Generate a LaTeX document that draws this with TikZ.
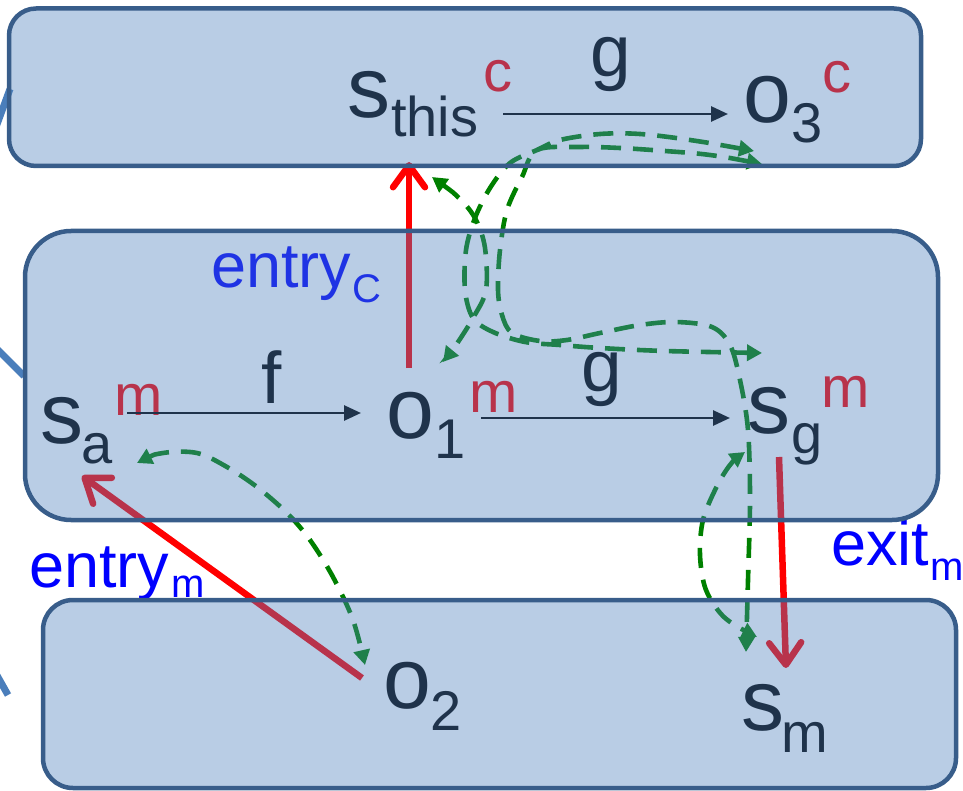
\documentclass[tikz,border=0pt]{standalone}
\usepackage{fontspec}
\setmainfont{Liberation Sans}
\usetikzlibrary{arrows.meta}
\definecolor{boxfill}{HTML}{4F81BD}
\definecolor{boxline}{HTML}{385D8A}
\definecolor{flowgreen}{HTML}{008000}
\definecolor{linkblue}{HTML}{4A7EBB}
\newcommand{\fsz}[1]{\fontsize{#1}{#1}\selectfont}
\begin{document}
\begin{tikzpicture}[x=1pt,y=-1pt,
  lbl/.style={inner sep=0pt, anchor=base west, text=black},
  big/.style={lbl, font=\fsz{86}},
  sub/.style={lbl, font=\fsz{56}},
  sup/.style={lbl, font=\fsz{58}, text=red},
  edgelbl/.style={lbl, font=\fsz{73}},
  bluelbl/.style={lbl, font=\fsz{63}, text=blue},
  bluesub/.style={lbl, font=\fsz{40}, text=blue},
  cfgedge/.style={black, line width=2.8pt, -{Triangle[length=17pt,width=15pt]}},
  calledge/.style={red, line width=6.5pt, -{Straight Barb[length=22pt,width=32pt,round]}},
  flow/.style={flowgreen, line width=4.6pt, dash pattern=on 20pt off 12pt,
    {Triangle[length=15pt,width=16pt]}-{Triangle[length=15pt,width=16pt]}},
  link/.style={linkblue, line width=7pt},
  boxstyle/.style={draw=boxline, line width=4.5pt, fill=boxfill, fill opacity=0.4}
]
\useasboundingbox (0,0) rectangle (963,791);

% ---- labels ----
\node[big] (sthis) at (347,118) {s};
\node[sub] (sthis-sub) at (391,137) {this};
\node[sup] (sthis-sup) at (483,92) {c};
\node[edgelbl] (g1) at (590,77) {g};
\node[big] (o3) at (743,123) {o};
\node[sub] (o3-sub) at (791,143) {3};
\node[sup] (o3-sup) at (822,93) {c};

\node[big] (sa) at (40,443) {s};
\node[sub] (sa-sub) at (81,463) {a};
\node[sup] (sa-sup) at (114,415) {m};
\node[edgelbl] (f) at (261,403) {f};
\node[big] (o1) at (386,438) {o};
\node[sub] (o1-sub) at (434,458) {1};
\node[sup] (o1-sup) at (469,412) {m};
\node[edgelbl] (g2) at (581,391) {g};
\node[big] (sg) at (747,433) {s};
\node[sub] (sg-sub) at (791,453) {g};
\node[sup] (sg-sup) at (821,407) {m};

\node[big] (o2) at (383,708) {o};
\node[sub] (o2-sub) at (430,730) {2};
\node[big] (sm) at (741,730) {s};
\node[sub] (sm-sub) at (781,752) {m};

\node[bluelbl] (entryC) at (211,288) {entry};
\node[bluesub] (entryC-sub) at (352,303) {C};
\node[bluelbl] (entrym) at (29,587) {entry};
\node[bluesub] (entrym-sub) at (171,597) {m};
\node[bluelbl] (exitm) at (831,565) {exit};
\node[bluesub] (exitm-sub) at (930,580) {m};

% ---- connector end points ----
\coordinate (top-s) at (503,114);   \coordinate (top-e) at (728,114);
\coordinate (f-s) at (127,413);     \coordinate (f-e) at (361,413);
\coordinate (g-s) at (481,418);     \coordinate (g-e) at (730,418);
\coordinate (eC-s) at (409,368);    \coordinate (eC-e) at (409,162);
\coordinate (em-s) at (362,678);    \coordinate (em-e) at (82,476);
\coordinate (xm-s) at (779,457);    \coordinate (xm-e) at (786,668);

% ---- intraprocedural edges ----
\draw[cfgedge] (top-s) -- (top-e);
\draw[cfgedge] (f-s) -- (f-e);
\draw[cfgedge] (g-s) -- (g-e);

% ---- call / return edges ----
\draw[calledge] (eC-s) -- (eC-e);
\draw[calledge] (em-s) -- (em-e);
\draw[calledge] (xm-s) -- (xm-e);

% ---- green flow paths ----
\draw[flow] plot[smooth, tension=0.55] coordinates {
  (137,463) (163,453) (197,453) (227,467) (257,487) (287,513) (310,540)
  (333,577) (353,620) (365,665)};
\draw[flow] plot[smooth, tension=0.55] coordinates {
  (432,177) (460,199) (476,220) (485,248) (486,290) (473,318) (456,345) (443,362)};
\draw[flow] plot[smooth, tension=0.55] coordinates {
  (754,151) (690,140) (640,134) (600,134) (560,140) (537,150) (510,163)
  (490,188) (475,218) (466,250) (465,290) (473,318) (493,332) (525,342)
  (560,345) (600,348) (665,351) (762,353)};
\draw[flow] plot[smooth, tension=0.55] coordinates {
  (762,164) (710,155) (665,151) (620,148) (580,147) (537,150) (522,177)
  (507,210) (500,250) (498,290) (502,315) (512,333) (540,341) (567,340)
  (600,333) (640,325) (676,322) (712,327) (730,345) (740,380) (748,430)
  (750,500) (748,580) (746,652)};
\draw[flow] plot[smooth, tension=0.55] coordinates {
  (745,452) (730,465) (716,488) (703,520) (700,555) (706,590) (725,618) (757,637)};

% ---- links leaving the picture ----
\coordinate (lk1a) at (-4,127); \coordinate (lk1b) at (10,89);
\coordinate (lk2a) at (-5,347); \coordinate (lk2b) at (24,376);
\coordinate (lk3a) at (-10,663); \coordinate (lk3b) at (8,695);
\draw[link] (lk1a) -- (lk1b);
\draw[link] (lk2a) -- (lk2b);
\draw[link] (lk3a) -- (lk3b);

% ---- procedure boxes (semi-transparent, on top) ----
\draw[boxstyle, rounded corners=27pt] (9,8.5) rectangle (921,166);
\draw[boxstyle, rounded corners=46pt] (25,231) rectangle (938,520);
\draw[boxstyle, rounded corners=30pt] (43,600) rectangle (956,788);
\end{tikzpicture}
\end{document}
